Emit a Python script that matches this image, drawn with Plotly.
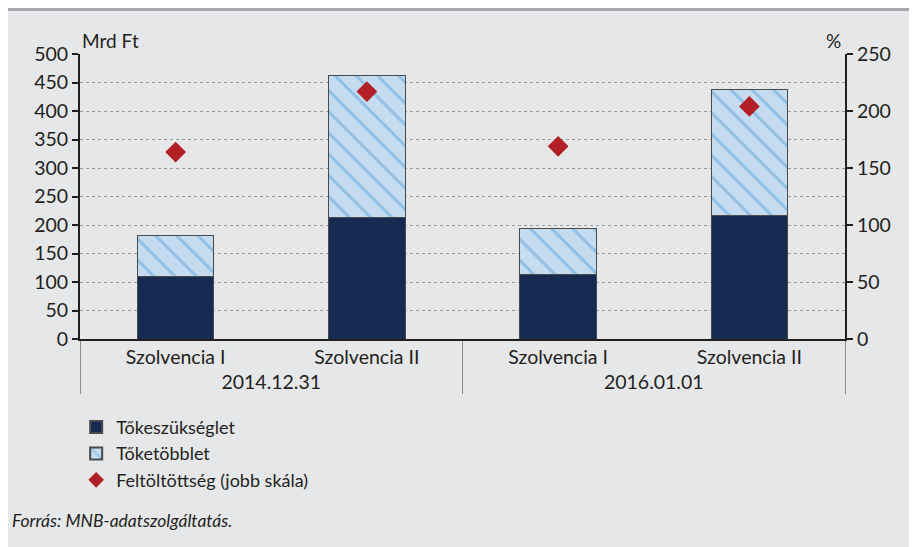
import plotly.graph_objects as go

# data
dates = ["2014.12.31", "2014.12.31", "2016.01.01", "2016.01.01"]
regimes = ["Szolvencia I", "Szolvencia II", "Szolvencia I", "Szolvencia II"]
requirement = [109, 214, 114, 216]   # Tőkeszükséglet, Mrd Ft
surplus = [72, 249, 79, 221]         # Tőketöbblet, Mrd Ft
coverage = [164, 217, 169, 204]      # Feltöltöttség, %

FONT = "Lato"
TEXT = "#231f20"
BG = "#e6e7e9"

x = [dates, regimes]

fig = go.Figure()
fig.add_trace(go.Bar(
    x=x, y=requirement, name="Tőkeszükséglet",
    marker=dict(color="#172a52", line=dict(color="#4a4a4a", width=1)),
    width=0.4,
))
fig.add_trace(go.Bar(
    x=x, y=surplus, name="Tőketöbblet",
    marker=dict(color="#c5dcf0", line=dict(color="#4a4a4a", width=1),
                pattern=dict(shape="\\", fgcolor="#5ba3d9", bgcolor="#c5dcf0",
                             size=15, solidity=0.2)),
    width=0.4,
))
fig.add_trace(go.Scatter(
    x=x, y=coverage, name="Feltöltöttség (jobb skála)", yaxis="y2",
    mode="markers",
    marker=dict(symbol="diamond", color="#b22025", size=16),
))

# the page has an 8px body margin, so the figure is a bit smaller
W, H = 909, 539
L, T = 72, 46
PW, PH = 765, 285

fig.update_layout(
    width=W, height=H,
    barmode="stack",
    paper_bgcolor=BG, plot_bgcolor=BG,
    font=dict(family=FONT, size=20, color=TEXT),
    margin=dict(l=L, r=W - L - PW, t=T, b=H - T - PH),
    showlegend=True,
    legend=dict(
        x=-0.005, y=-0.245, xanchor="left", yanchor="top",
        bgcolor="rgba(0,0,0,0)", font=dict(size=18, color=TEXT),
        traceorder="normal", tracegroupgap=0, itemsizing="constant",
    ),
    xaxis=dict(
        type="multicategory",
        showline=True, linecolor="#231f20", linewidth=2,
        ticks="",
        showdividers=True, dividercolor="#8a8a8a", dividerwidth=1,
        showgrid=False,
        tickfont=dict(size=19.5, color=TEXT),
    ),
    yaxis=dict(
        range=[0, 500], dtick=50,
        showline=True, linecolor="#231f20", linewidth=2,
        ticks="outside", ticklen=6, tickcolor="#231f20", tickwidth=2,
        showgrid=True, gridcolor="#9a9a9a", griddash="dot", gridwidth=1,
        zeroline=False,
        tickfont=dict(size=19.5, color=TEXT),
    ),
    yaxis2=dict(
        range=[0, 250], dtick=50, overlaying="y", side="right",
        showline=True, linecolor="#231f20", linewidth=2,
        ticks="outside", ticklen=6, tickcolor="#231f20", tickwidth=2,
        showgrid=False, zeroline=False,
        tickfont=dict(size=19.5, color=TEXT),
    ),
    shapes=[
        dict(type="rect", xref="paper", yref="paper",
             x0=-L / PW, x1=(W - L) / PW, y0=(PH + T - 3) / PH, y1=(PH + T) / PH,
             fillcolor="#a7a8ab", line=dict(width=0), layer="below"),
    ],
    annotations=[
        dict(text="Mrd Ft", xref="paper", yref="paper", x=0.0, y=1.0,
             xanchor="left", yanchor="bottom", showarrow=False,
             font=dict(size=19, color=TEXT)),
        dict(text="%", xref="paper", yref="paper", x=0.998, y=1.0,
             xanchor="right", yanchor="bottom", showarrow=False,
             font=dict(size=19, color=TEXT)),
        dict(text="<i>Forrás: MNB-adatszolgáltatás.</i>", xref="paper", yref="paper",
             x=-70 / PW, y=(339 - 520) / PH, xanchor="left", yanchor="middle",
             showarrow=False, font=dict(size=17.5, color=TEXT)),
    ],
)

fig.write_html("out.html")
